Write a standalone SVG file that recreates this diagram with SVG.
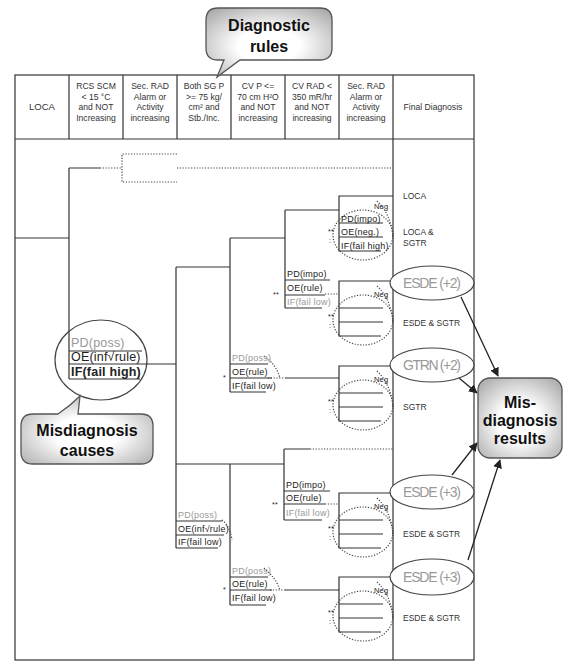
<svg xmlns="http://www.w3.org/2000/svg" xmlns:xlink="http://www.w3.org/1999/xlink" width="566" height="663" viewBox="0 0 566 663">
<style>
.ln{stroke:#333;stroke-width:1.2;fill:none}
.dt{stroke:#444;stroke-width:1.2;fill:none;stroke-dasharray:1.2 1.6}
.t{font-family:"Liberation Sans",Arial,sans-serif;font-size:9px;fill:#222;letter-spacing:0.2px}
.g{fill:#999}
.h{font-family:"Liberation Sans",Arial,sans-serif;font-size:8.6px;fill:#333;text-anchor:middle}
.fd{font-family:"Liberation Sans",Arial,sans-serif;font-size:8.5px;fill:#333}
.el{fill:#fff;stroke:#444;stroke-width:1.2}
.et{font-family:"Liberation Sans",Arial,sans-serif;font-size:14px;fill:#999}
.co{font-family:"Liberation Sans",Arial,sans-serif;font-size:16px;font-weight:bold;fill:#111;text-anchor:middle}
.cb{fill:url(#cg);stroke:#555;stroke-width:1.3}
.ar{stroke:#222;stroke-width:1.3;fill:none;marker-end:url(#ah)}
</style>
<defs>
<radialGradient id="cg" cx="0.5" cy="0.55" r="0.7">
<stop offset="0.35" stop-color="#ffffff"/>
<stop offset="1" stop-color="#a8a8a8"/>
</radialGradient>
<marker id="ah" viewBox="0 0 10 10" refX="9" refY="5" markerWidth="9" markerHeight="9" orient="auto" markerUnits="userSpaceOnUse">
<path d="M0,0 L10,5 L0,10 Z" fill="#222"/>
</marker>
<g id="neg">
<path class="ln" d="M54,0 H0 V55 H42 M0,27 H44 M0,41 H44"/>
<ellipse class="dt" cx="24" cy="39" rx="30" ry="25"/>
<path class="dt" d="M38,5 Q52,18 54,42"/>
<text class="t" x="-11" y="38" style="font-size:7px">**</text>
<text class="t" x="-10" y="47" style="font-size:7px">:</text>
</g>
</defs>

<g id="table">
<rect class="ln" x="15" y="75" width="459" height="585"/>
<path class="ln" d="M15,139 H474 M69,75 V139 M123,75 V139 M177,75 V139 M231,75 V139 M285,75 V139 M339,75 V139 M393,75 V660"/>
<text class="h" x="42" y="110" style="font-size:9.5px">LOCA</text>
<text class="h" x="96" y="89">RCS SCM</text>
<text class="h" x="96" y="99.5">&lt; 15 °C</text>
<text class="h" x="96" y="110">and NOT</text>
<text class="h" x="96" y="120.5">Increasing</text>
<text class="h" x="150" y="89">Sec. RAD</text>
<text class="h" x="150" y="99.5">Alarm  or</text>
<text class="h" x="150" y="110">Activity</text>
<text class="h" x="150" y="120.5">increasing</text>
<text class="h" x="204" y="89">Both SG P</text>
<text class="h" x="204" y="99.5">&gt;= 75 kg/</text>
<text class="h" x="204" y="110">cm² and</text>
<text class="h" x="204" y="120.5">Stb./Inc.</text>
<text class="h" x="258" y="89">CV P &lt;=</text>
<text class="h" x="258" y="99.5">70 cm H²O</text>
<text class="h" x="258" y="110">and NOT</text>
<text class="h" x="258" y="120.5">increasing</text>
<text class="h" x="312" y="89">CV RAD &lt;</text>
<text class="h" x="312" y="99.5">350 mR/hr</text>
<text class="h" x="312" y="110">and NOT</text>
<text class="h" x="312" y="120.5">increasing</text>
<text class="h" x="366" y="89">Sec. RAD</text>
<text class="h" x="366" y="99.5">Alarm  or</text>
<text class="h" x="366" y="110">Activity</text>
<text class="h" x="366" y="120.5">increasing</text>
<text class="h" x="433" y="110">Final Diagnosis</text>
</g>

<g id="connectors">
<path class="ln" d="M15,238 H69 M69,168 V379 M69,168 H100"/>
<path class="dt" d="M100,168 H122 M177,154 H122 V182 H177 M177,168 H393"/>
<path class="ln" d="M145,364 H176 M176,267 V548 M176,267 H230 M230,238 V392 M230,238 H285 M285,210 V308 M285,210 H339"/>
<path class="dt" d="M325,294 H339 M268,378 H285 M264,356 Q276,364 280,378"/>
<path class="ln" d="M285,378 H339"/>
<path class="ln" d="M176,464 H230 M230,464 V605 M230,464 H284 M284,449 V520 M284,449 H310"/>
<path class="dt" d="M310,449 H393 M325,504 H339 M270,590 H285 M264,568 Q276,578 280,590 M222,520 Q230,526 232,540"/>
<path class="ln" d="M285,590 H339"/>
<path class="ar" d="M461,297 L498,376"/>
<path class="ar" d="M459,378 L477,393"/>
<path class="ar" d="M452,475 L477,443"/>
<path class="ar" d="M468,560 L500,460"/>
</g>

<g id="root-node">
<path class="ln" d="M69,351 H142 M69,364 H145 M69,379 H140"/>
<text class="t g" x="71" y="347" style="font-size:12.5px">PD(poss)</text>
<text class="t" x="71" y="361" style="font-size:12.5px">OE(inf√rule)</text>
<text class="t" x="71" y="376" style="font-size:12.5px;font-weight:bold">IF(fail high)</text>
<ellipse cx="101" cy="360" rx="46" ry="40" fill="none" stroke="#444" stroke-width="1.2"/>
</g>

<g id="box-upper-impo">
<path class="ln" d="M285,280 H330 M285,295 H325 M285,308 H322"/>
<text class="t" x="287" y="277">PD(impo)</text>
<text class="t" x="287" y="291">OE(rule)</text>
<text class="t g" x="287" y="305">IF(fail low)</text>
<text class="t" x="273" y="297" style="font-size:7px">**</text>
</g>

<g id="box-upper-poss">
<path class="ln" d="M230,364 H268 M230,378 H272 M230,392 H266"/>
<text class="t g" x="232" y="361">PD(poss)</text>
<text class="t" x="232" y="375">OE(rule)</text>
<text class="t" x="232" y="389">IF(fail low)</text>
<text class="t" x="223" y="380" style="font-size:7px">*</text>
</g>

<g id="box-lower-left">
<path class="ln" d="M176,521 H222 M176,535 H224 M176,548 H218"/>
<text class="t g" x="178" y="518">PD(poss)</text>
<text class="t" x="178" y="532">OE(inf√rule)</text>
<text class="t" x="178" y="545">IF(fail low)</text>
</g>

<g id="box-lower-impo">
<path class="ln" d="M284,491 H330 M284,504 H325 M284,520 H322"/>
<text class="t" x="286" y="488">PD(impo)</text>
<text class="t" x="286" y="501">OE(rule)</text>
<text class="t g" x="286" y="516">IF(fail low)</text>
<text class="t" x="272" y="507" style="font-size:7px">**</text>
</g>

<g id="box-lower-poss">
<path class="ln" d="M230,577 H268 M230,590 H272 M230,605 H266"/>
<text class="t g" x="232" y="574">PD(poss)</text>
<text class="t" x="232" y="587">OE(rule)</text>
<text class="t" x="232" y="601">IF(fail low)</text>
<text class="t" x="223" y="592" style="font-size:7px">*</text>
</g>

<g id="neg-loca-sgtr">
<use xlink:href="#neg" x="339" y="196"/>
<text class="t" x="341" y="222">PD(impo)</text>
<text class="t" x="341" y="235">OE(neg.)</text>
<text class="t" x="341" y="249">IF(fail high)</text>
<text class="t" x="374" y="209" style="font-size:7.5px">Neg</text>
</g>
<g id="neg-esde2">
<use xlink:href="#neg" x="339" y="281"/>
<text class="t" x="374" y="297" style="font-size:7.5px">Neg</text>
</g>
<g id="neg-gtrn2">
<use xlink:href="#neg" x="339" y="366"/>
<text class="t" x="374" y="382" style="font-size:7.5px">Neg</text>
</g>
<g id="neg-esde3a">
<use xlink:href="#neg" x="339" y="493"/>
<text class="t" x="374" y="509" style="font-size:7.5px">Neg</text>
</g>
<g id="neg-esde3b">
<use xlink:href="#neg" x="339" y="577"/>
<text class="t" x="374" y="593" style="font-size:7.5px">Neg</text>
</g>

<g id="final-labels">
<text class="fd" x="403" y="199">LOCA</text>
<text class="fd" x="403" y="235">LOCA &amp;</text>
<text class="fd" x="403" y="246">SGTR</text>
<text class="fd" x="403" y="326">ESDE &amp; SGTR</text>
<text class="fd" x="403" y="410">SGTR</text>
<text class="fd" x="403" y="537">ESDE &amp; SGTR</text>
<text class="fd" x="403" y="621">ESDE &amp; SGTR</text>
</g>

<g id="esde2"><ellipse class="el" cx="432" cy="283" rx="42" ry="17"/><text class="et" x="403" y="288" textLength="58">ESDE (+2)</text></g>
<g id="gtrn2"><ellipse class="el" cx="432" cy="365" rx="42" ry="17"/><text class="et" x="403" y="370" textLength="58">GTRN (+2)</text></g>
<g id="esde3a"><ellipse class="el" cx="432" cy="492" rx="42" ry="17"/><text class="et" x="403" y="497" textLength="58">ESDE (+3)</text></g>
<g id="esde3b"><ellipse class="el" cx="432" cy="577" rx="42" ry="18"/><text class="et" x="403" y="582" textLength="58">ESDE (+3)</text></g>

<g id="callout-rules">
<path class="cb" d="M218,8 H320 Q332,8 332,20 V48 Q332,60 320,60 H240 L217,77 L224,60 H218 Q206,60 206,48 V20 Q206,8 218,8 Z"/>
<text class="co" x="269" y="31">Diagnostic</text>
<text class="co" x="269" y="52">rules</text>
</g>

<g id="callout-causes">
<path class="cb" d="M33,414 H58 Q70,406 80,396 L78,414 H141 Q153,414 153,426 V452 Q153,464 141,464 H33 Q21,464 21,452 V426 Q21,414 33,414 Z"/>
<text class="co" x="87" y="436">Misdiagnosis</text>
<text class="co" x="87" y="456">causes</text>
</g>

<g id="results">
<rect class="cb" x="478" y="378" width="84" height="80" rx="12"/>
<text class="co" x="520" y="408">Mis-</text>
<text class="co" x="520" y="426">diagnosis</text>
<text class="co" x="520" y="444">results</text>
</g>
</svg>
